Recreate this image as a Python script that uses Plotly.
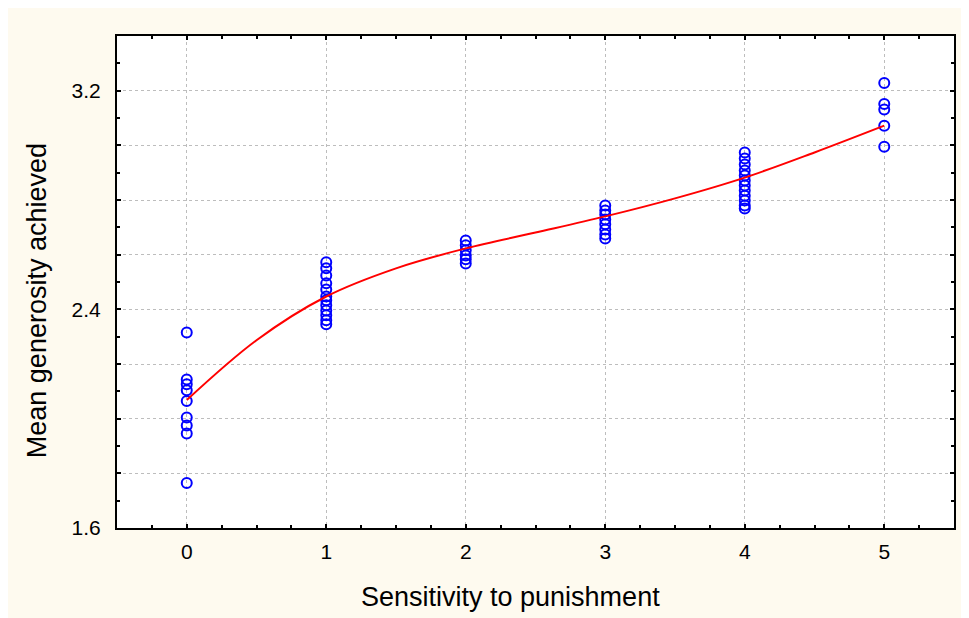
import plotly.graph_objects as go

# Data
x0_vals = [2.315, 2.143, 2.126, 2.104, 2.065, 2.004, 1.975, 1.946, 1.765]
x1_vals = [2.572, 2.550, 2.524, 2.495, 2.473, 2.447, 2.433, 2.415, 2.396, 2.378, 2.360, 2.345]
x2_vals = [2.652, 2.634, 2.616, 2.597, 2.583, 2.568]
x3_vals = [2.780, 2.762, 2.747, 2.729, 2.711, 2.692, 2.674, 2.659]
x4_vals = [2.974, 2.952, 2.930, 2.908, 2.890, 2.871, 2.853, 2.835, 2.816, 2.798, 2.780, 2.769]
x5_vals = [3.228, 3.151, 3.131, 3.072, 2.995]
groups = [0, 1, 2, 3, 4, 5]

curve_x = [0, 0.5, 1, 1.5, 2, 2.5, 3, 3.5, 4, 4.5, 5]
curve_y = [2.068, 2.287, 2.447, 2.550, 2.623, 2.681, 2.740, 2.806, 2.882, 2.974, 3.072]

y_tickvals = [1.6, 1.8, 2.0, 2.2, 2.4, 2.6, 2.8, 3.0, 3.2, 3.4]
y_ticktext = ["1.6", "", "", "", "2.4", "", "", "", "3.2", ""]
x_tickvals = [0, 1, 2, 3, 4, 5]

x_title = "Sensitivity to punishment"
y_title = "Mean generosity achieved"

xs, ys = [], []
for g, vals in zip(groups, [x0_vals, x1_vals, x2_vals, x3_vals, x4_vals, x5_vals]):
    xs += [g] * len(vals)
    ys += vals

fig = go.Figure()
fig.add_trace(go.Scatter(
    x=xs, y=ys, mode="markers",
    marker=dict(symbol="circle-open", size=10, color="#0000ff", line=dict(width=2, color="#0000ff")),
    showlegend=False, hoverinfo="skip"))
fig.add_trace(go.Scatter(
    x=curve_x, y=curve_y, mode="lines",
    line=dict(color="#ff0000", width=2, shape="spline", smoothing=1.0),
    showlegend=False, hoverinfo="skip"))

font_family = "Liberation Sans, Arial, sans-serif"
fig.update_layout(
    width=961, height=610,
    margin=dict(l=109, r=15, t=28, b=90),
    paper_bgcolor="#fefaef",
    plot_bgcolor="#ffffff",
    font=dict(family=font_family, size=21, color="#000000"),
    annotations=[
        dict(text=x_title, xref="paper", yref="paper", x=0.4707, y=-0.140,
             xanchor="center", yanchor="middle", showarrow=False, font=dict(size=27)),
        dict(text=y_title, xref="paper", yref="paper", x=-0.0956, y=0.463,
             xanchor="center", yanchor="middle", showarrow=False, textangle=-90, font=dict(size=27)),
    ],
)
fig.update_xaxes(
    range=[-0.5, 5.5], tickvals=x_tickvals, ticks="inside", ticklen=4, tickwidth=2,
    tickcolor="#000000", showline=True, linecolor="#000000", linewidth=2, mirror="allticks",
    showgrid=True, gridcolor="#bdbdbd", griddash="3px,3px", gridwidth=1, zeroline=False,
    minor=dict(dtick=0.25, tick0=0, ticks="inside", ticklen=3, tickwidth=2, tickcolor="#000000", showgrid=False),
    tickfont=dict(size=21), ticklabelstandoff=4,
)
fig.update_yaxes(
    range=[1.6, 3.4], tickvals=y_tickvals, ticktext=y_ticktext, ticks="inside", ticklen=4, tickwidth=2,
    tickcolor="#000000", showline=True, linecolor="#000000", linewidth=2, mirror="allticks",
    showgrid=True, gridcolor="#bdbdbd", griddash="3px,3px", gridwidth=1, zeroline=False,
    minor=dict(dtick=0.1, tick0=1.6, ticks="inside", ticklen=3, tickwidth=2, tickcolor="#000000", showgrid=False),
    tickfont=dict(size=21), ticklabelstandoff=10,
)

fig.write_html("out.html")
